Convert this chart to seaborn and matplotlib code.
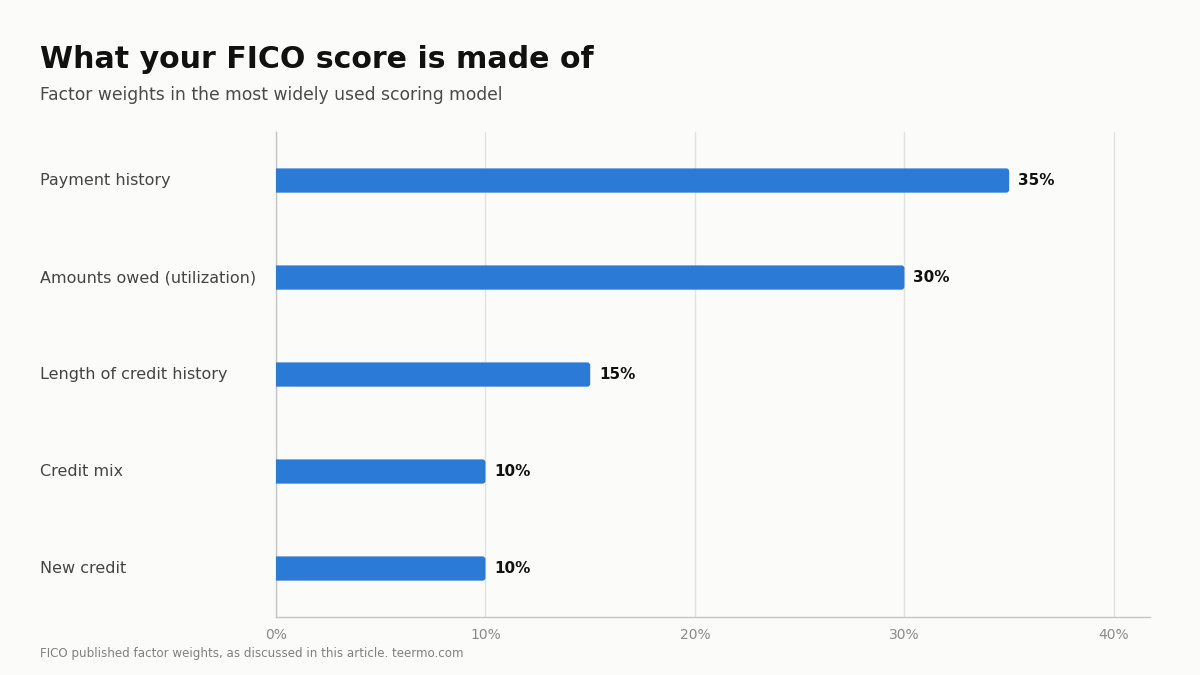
import matplotlib
matplotlib.use("Agg")
import matplotlib.pyplot as plt
import seaborn as sns
import pandas as pd
from matplotlib.patches import FancyBboxPatch

factors = ["Payment history", "Amounts owed (utilization)", "Length of credit history", "Credit mix", "New credit"]
weights = [35, 30, 15, 10, 10]
xticks = [0, 10, 20, 30, 40]
xtick_labels = ["0%", "10%", "20%", "30%", "40%"]

BG = "#fbfbf9"
BAR = "#2a7ad6"

sns.set_theme(style="white")
plt.rcParams["font.family"] = ["DejaVu Sans"]

fig = plt.figure(figsize=(12, 6.75), dpi=100, facecolor=BG)
ax = fig.add_axes([0.23, 0.0859, 0.7283, 0.7185], facecolor=BG)

df = pd.DataFrame({"factor": factors, "weight": weights})
sns.barplot(data=df, x="weight", y="factor", orient="h", color=BAR, width=0.25, ax=ax, saturation=1)

ax.set_xlim(0, 41.72)
ax.set_ylim(4.5, -0.5)

# rounded bar ends
px_per_x = ax.bbox.width / 41.72
px_per_y = ax.bbox.height / 5.0
for p in list(ax.patches):
    x, y, w, h = p.get_x(), p.get_y(), p.get_width(), p.get_height()
    p.remove()
    r = 3.0 / px_per_x
    fb = FancyBboxPatch((x - 1.0, y), w + 1.0, h,
                        boxstyle=f"round,pad=0,rounding_size={r}",
                        mutation_aspect=px_per_x / px_per_y,
                        facecolor=BAR, edgecolor="none", clip_on=True, zorder=3)
    ax.add_patch(fb)

for i, v in enumerate(weights):
    ax.annotate(f"{v}%", xy=(v, i), xytext=(9, 0), textcoords="offset pixels",
                ha="left", va="center", fontsize=11, fontweight="bold", color="#111111")

ax.set_xticks(xticks)
ax.set_xticklabels(xtick_labels)
ax.grid(axis="x", color="#e2e2e2", linewidth=1)
ax.grid(axis="y", visible=False)
ax.set_axisbelow(True)
ax.set_xlabel("")
ax.set_ylabel("")
for s in ["top", "right"]:
    ax.spines[s].set_visible(False)
for s in ["left", "bottom"]:
    ax.spines[s].set_color("#c4c4c4")
    ax.spines[s].set_linewidth(1)
ax.spines["bottom"].set_bounds(0, 41.72)

ax.tick_params(axis="x", length=0, pad=8, labelsize=10, labelcolor="#8a8a8a")
ax.tick_params(axis="y", length=0, pad=236 * 72 / 100, labelsize=11.5, labelcolor="#444444")
for lab in ax.get_yticklabels():
    lab.set_ha("left")
    lab.set_va("center")

fig.text(40 / 1200, 1 - 59 / 675, "What your FICO score is made of", fontsize=21.6, fontweight="bold",
         color="#111111", ha="left", va="center")
fig.text(40 / 1200, 1 - 95 / 675, "Factor weights in the most widely used scoring model", fontsize=12.3,
         color="#4a4a4a", ha="left", va="center")
fig.text(40 / 1200, 1 - 653 / 675, "FICO published factor weights, as discussed in this article. teermo.com",
         fontsize=8.6, color="#808080", ha="left", va="center")

fig.savefig("out.png", dpi=100, facecolor=BG)
